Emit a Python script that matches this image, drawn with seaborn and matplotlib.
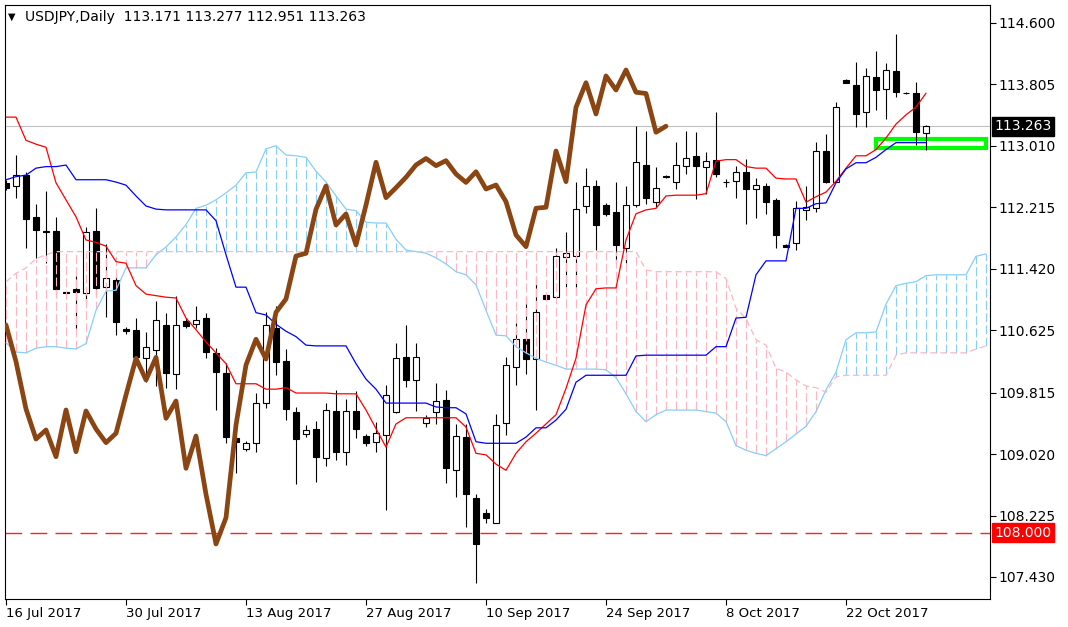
import numpy as np
import matplotlib
matplotlib.use("Agg")
import matplotlib.pyplot as plt
import seaborn as sns
from matplotlib.patches import Rectangle

# ---------------- data ----------------
tick_bars = [0, 12, 24, 36, 48, 60, 72, 84]
tick_labels = ["16 Jul 2017", "30 Jul 2017", "13 Aug 2017", "27 Aug 2017",
               "10 Sep 2017", "24 Sep 2017", "8 Oct 2017", "22 Oct 2017"]
price_ticks = [114.600, 113.805, 113.010, 112.215, 111.420, 110.625,
               109.815, 109.020, 108.225, 107.430]

open_ = [112.528, 112.489, 112.631, 112.084, 111.907, 111.911, 111.111, 111.156, 111.109, 111.911,
         111.178, 111.273, 110.639, 110.626, 110.267, 110.367, 110.691, 110.056, 110.746, 110.703,
         110.777, 110.328, 110.069, 109.228, 109.086, 109.164, 109.681, 110.652, 110.225, 109.565,
         109.280, 109.349, 108.973, 109.578, 109.051, 109.578, 109.254, 109.173, 109.267, 109.561,
         110.272, 109.979, 109.426, 109.561, 109.720, 108.814, 109.237, 108.448, 108.262, 108.132,
         109.418, 110.143, 110.506, 110.250, 111.079, 111.057, 111.574, 111.587, 112.230, 112.489,
         112.243, 112.149, 111.683, 112.243, 112.761, 112.278, 112.619, 112.545, 112.754, 112.877,
         112.739, 112.826, 112.541, 112.554, 112.674, 112.450, 112.493, 112.308, 111.726, 111.755,
         112.179, 112.208, 112.942, 112.537, 113.861, 113.796, 113.443, 113.896, 113.744, 113.977,
         113.689, 113.689, 113.171]
high = [112.567, 112.890, 112.674, 112.256, 112.428, 112.084, 111.130, 111.328, 111.963, 112.201,
        111.739, 111.338, 110.665, 110.777, 110.604, 110.995, 110.850, 111.066, 110.781, 110.936,
        110.846, 110.393, 110.199, 109.254, 109.190, 109.811, 110.863, 110.936, 110.380, 109.630,
        109.397, 109.448, 109.681, 109.849, 109.733, 109.840, 109.280, 109.439, 109.914, 110.454,
        110.691, 110.454, 109.526, 109.944, 109.849, 109.409, 109.409, 108.504, 108.310, 109.539,
        110.280, 110.713, 111.053, 111.295, 111.105, 111.683, 111.890, 112.545, 112.718, 112.567,
        112.269, 112.545, 112.489, 113.266, 113.205, 112.731, 112.632, 113.055, 113.201, 113.192,
        112.933, 113.451, 112.580, 112.752, 112.835, 112.589, 112.524, 112.330, 111.739, 112.295,
        112.493, 113.062, 113.158, 113.580, 113.874, 114.090, 114.012, 114.240, 114.077, 114.452,
        113.706, 113.839, 113.277]
low = [112.437, 112.334, 111.683, 111.554, 111.489, 111.079, 111.092, 110.639, 110.971, 111.079,
       110.798, 110.561, 110.574, 110.173, 109.953, 109.901, 109.875, 109.862, 110.652, 110.652,
       110.264, 109.591, 109.164, 108.775, 109.060, 109.047, 109.616, 110.044, 109.461, 108.633,
       109.241, 108.663, 108.870, 108.944, 108.875, 109.228, 109.129, 109.051, 108.297, 109.548,
       109.892, 109.582, 109.374, 109.409, 108.650, 108.469, 108.073, 107.356, 108.132, 108.128,
       109.267, 109.914, 110.056, 109.591, 111.014, 111.053, 111.186, 111.079, 112.136, 111.661,
       112.101, 111.489, 111.497, 112.221, 112.252, 112.221, 112.593, 112.446, 112.644, 112.321,
       112.386, 112.610, 112.480, 112.338, 111.997, 112.079, 112.123, 111.691, 111.700, 111.661,
       112.049, 112.157, 112.524, 112.535, 113.822, 113.249, 113.249, 113.473, 113.352, 113.637,
       113.673, 113.020, 112.951]
close = [112.463, 112.631, 112.058, 111.920, 111.900, 111.152, 111.105, 111.114, 111.890, 111.173,
         111.295, 110.733, 110.613, 110.277, 110.402, 110.755, 110.063, 110.691, 110.678, 110.755,
         110.345, 110.086, 109.245, 109.177, 109.164, 109.681, 110.691, 110.216, 109.604, 109.215,
         109.332, 108.986, 109.591, 109.051, 109.578, 109.345, 109.168, 109.289, 109.785, 110.260,
         109.979, 110.272, 109.483, 109.707, 108.836, 109.254, 108.500, 107.857, 108.197, 109.397,
         110.173, 110.506, 110.250, 110.855, 111.027, 111.583, 111.618, 112.188, 112.489, 111.985,
         112.127, 111.726, 112.243, 112.796, 112.338, 112.467, 112.602, 112.761, 112.845, 112.752,
         112.817, 112.644, 112.535, 112.674, 112.450, 112.502, 112.286, 111.855, 111.704, 112.201,
         112.214, 112.942, 112.545, 113.508, 113.826, 113.421, 113.913, 113.731, 113.990, 113.702,
         113.686, 113.184, 113.263]

tenkan = [113.38, 113.38, 113.08, 113.03, 112.99, 112.53, 112.31, 112.09, 111.79, 111.76,
          111.71, 111.51, 111.49, 111.20, 111.09, 111.07, 111.05, 111.04, 110.78, 110.63,
          110.47, 110.33, 110.19, 109.93, 109.93, 109.93, 109.86, 109.86, 109.88, 109.81,
          109.81, 109.81, 109.81, 109.80, 109.80, 109.80, 109.59, 109.35, 109.11, 109.41,
          109.49, 109.49, 109.49, 109.49, 109.49, 109.49, 109.37, 109.03, 109.01, 108.89,
          108.81, 109.03, 109.18, 109.29, 109.41, 109.53, 109.87, 110.26, 110.95, 111.16,
          111.17, 111.17, 111.79, 112.13, 112.18, 112.20, 112.36, 112.37, 112.37, 112.37,
          112.39, 112.81, 112.83, 112.83, 112.74, 112.72, 112.72, 112.59, 112.58, 112.58,
          112.28, 112.35, 112.41, 112.55, 112.72, 112.88, 112.88, 112.96, 113.11, 113.29,
          113.41, 113.51, 113.69]
kijun = [112.57, 112.61, 112.63, 112.72, 112.74, 112.74, 112.76, 112.57, 112.57, 112.57,
         112.57, 112.54, 112.50, 112.36, 112.23, 112.19, 112.18, 112.18, 112.18, 112.18,
         112.18, 112.04, 111.60, 111.18, 111.18, 110.85, 110.82, 110.70, 110.61, 110.54,
         110.43, 110.42, 110.42, 110.42, 110.42, 110.19, 109.99, 109.86, 109.68, 109.68,
         109.68, 109.68, 109.68, 109.63, 109.62, 109.62, 109.54, 109.18, 109.16, 109.16,
         109.16, 109.16, 109.24, 109.36, 109.36, 109.46, 109.60, 109.95, 110.04, 110.04,
         110.04, 110.04, 110.04, 110.29, 110.30, 110.30, 110.30, 110.30, 110.30, 110.30,
         110.30, 110.41, 110.41, 110.78, 110.79, 111.34, 111.52, 111.52, 111.52, 112.20,
         112.20, 112.26, 112.27, 112.53, 112.71, 112.79, 112.79, 112.86, 112.96, 113.05,
         113.05, 113.05, 113.05]
span_a = [110.46, 110.34, 110.33, 110.39, 110.41, 110.41, 110.39, 110.38, 110.45, 110.88,
          111.13, 111.14, 111.43, 111.43, 111.43, 111.60, 111.70, 111.83, 111.99, 112.20,
          112.24, 112.31, 112.40, 112.50, 112.66, 112.67, 112.97, 113.01, 112.89, 112.88,
          112.86, 112.68, 112.54, 112.36, 112.19, 112.17, 112.02, 112.01, 112.01, 111.80,
          111.66, 111.64, 111.62, 111.56, 111.48, 111.38, 111.34, 111.21, 110.88, 110.56,
          110.55, 110.41, 110.33, 110.26, 110.21, 110.17, 110.12, 110.12, 110.12, 110.12,
          110.11, 110.01, 109.80, 109.57, 109.44, 109.53, 109.59, 109.59, 109.59, 109.59,
          109.57, 109.55, 109.44, 109.13, 109.07, 109.03, 109.00, 109.09, 109.18, 109.28,
          109.38, 109.57, 109.85, 110.08, 110.50, 110.59, 110.59, 110.60, 110.96, 111.20,
          111.23, 111.25, 111.33, 111.34, 111.34, 111.34, 111.34, 111.58, 111.61]
span_b = [111.25, 111.36, 111.43, 111.55, 111.60] + [111.64] * 59 + \
         [111.40, 111.38, 111.38, 111.38, 111.38, 111.38, 111.38, 111.38, 111.29, 110.91,
          110.77, 110.50, 110.43, 110.13, 110.08, 109.98, 109.90, 109.88, 109.82, 110.02,
          110.04, 110.04, 110.04, 110.04, 110.04, 110.30, 110.33, 110.33, 110.33, 110.33,
          110.33, 110.33, 110.33, 110.38, 110.42]

header = "USDJPY,Daily  113.171 113.277 112.951 113.263"
last_price = 113.263
level_108 = 108.000
box_low, box_high = 112.981, 113.094
shift = 26

# ---------------- style ----------------
sns.set_style("white")
plt.rcParams['font.family'] = ['DejaVu Sans']

W, H = 1068, 627
fig = plt.figure(figsize=(W / 100, H / 100), dpi=100)
fig.patch.set_facecolor("white")
ax = fig.add_axes([5 / W, 28 / H, 985 / W, 594 / H])
ax.set_facecolor("white")

bars = np.arange(len(close))
cbars = np.arange(len(span_a))
o = np.array(open_); c = np.array(close); h = np.array(high); l = np.array(low)
sa = np.array(span_a); sb = np.array(span_b)

# horizontal reference lines
ax.axhline(last_price, color="#C0C0C0", lw=0.8, zorder=1)
ax.axhline(level_108, color="#FF2020", lw=1.0, dashes=(12, 6), zorder=1)

# green highlight box
ax.add_patch(Rectangle((87.03, box_low), 11.0, box_high - box_low, fill=False,
                       edgecolor="#00FF00", lw=3.0, zorder=2))

# candles
ax.vlines(bars, l, h, color="black", lw=0.8, zorder=3)
bull = c >= o
body_h = np.maximum(np.abs(c - o), 0.006)
ax.bar(bars, body_h, bottom=np.minimum(o, c), width=0.62,
       color=np.where(bull, "white", "black"), edgecolor="black", linewidth=0.8, zorder=3.5)

# kumo hatch
cols = ["#87CEFA" if a >= b else "#FFB6C1" for a, b in zip(sa, sb)]
ax.vlines(cbars, np.minimum(sa, sb), np.maximum(sa, sb), colors=cols, lw=0.8,
          linestyles=[(0, (8, 3))] * len(cbars), zorder=4)
sns.lineplot(x=cbars, y=sa, color="#87CEFA", lw=0.9, ax=ax, zorder=4.2)
ax.plot(cbars, sb, color="#FFB6C1", lw=0.9, dashes=(5, 3), zorder=4.2)

# tenkan / kijun
sns.lineplot(x=bars, y=np.array(tenkan), color="#FF0000", lw=0.9, ax=ax, zorder=5)
sns.lineplot(x=bars, y=np.array(kijun), color="#0000FF", lw=0.9, ax=ax, zorder=5)

# chikou span: close shifted back
sns.lineplot(x=bars[:-shift] if False else bars[shift:] - shift, y=c[shift:],
             color="#8B4513", lw=3.4, ax=ax, zorder=6)

# axes
ax.set_xlim(-0.1, 98.4)
ax.set_ylim(107.145, 114.831)
ax.set_xlabel(""); ax.set_ylabel("")
for s in ax.spines.values():
    s.set_color("black"); s.set_linewidth(0.8); s.set_visible(True)

ax.yaxis.tick_right()
ax.set_yticks(price_ticks)
ax.set_yticklabels([f"{v:.3f}" for v in price_ticks])
ax.tick_params(axis="y", direction="out", length=4, width=0.8, pad=2,
               labelsize=10, colors="black", right=True, left=False)
ax.set_xticks(tick_bars)
ax.set_xticklabels(tick_labels, ha="left")
ax.tick_params(axis="x", direction="out", length=4, width=0.8, pad=2,
               labelsize=9.5, colors="black", bottom=True)
ax.grid(False)

# price boxes
ax.annotate(f"{last_price:.3f}", xy=(1, last_price), xycoords=("axes fraction", "data"),
            xytext=(3.2, 0), textcoords="offset points", ha="left", va="center",
            color="white", fontsize=10, annotation_clip=False, zorder=10,
            bbox=dict(boxstyle="square,pad=0.18", fc="black", ec="black"))
ax.annotate(f"{level_108:.3f}", xy=(1, level_108), xycoords=("axes fraction", "data"),
            xytext=(3.2, 0), textcoords="offset points", ha="left", va="center",
            color="white", fontsize=10, annotation_clip=False, zorder=10,
            bbox=dict(boxstyle="square,pad=0.18", fc="#FF0000", ec="#FF0000"))

# header
fig.text(8 / W, 1 - 17 / H, "▼", fontsize=7, va="center", ha="left", color="black")
fig.text(25 / W, 1 - 17 / H, header, fontsize=10, va="center", ha="left", color="black")

fig.savefig("out.png", dpi=100, facecolor="white")
